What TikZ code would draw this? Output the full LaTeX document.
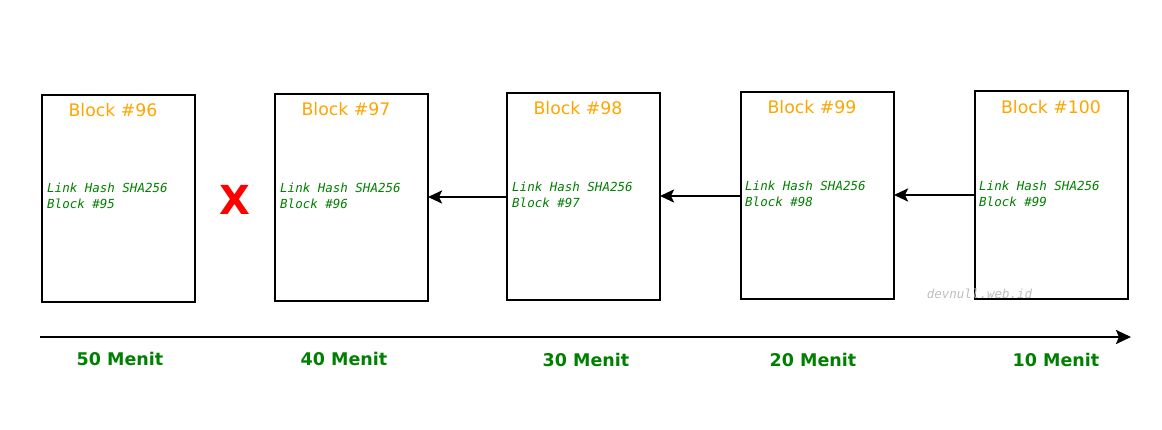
\documentclass[tikz,border=0pt]{standalone}
\usepackage{fontspec}
\setmainfont{DejaVu Sans}
\newfontfamily\monoob[FakeSlant=0.2]{DejaVu Sans Mono}
\IfFontExistsTF{DejaVu Sans Mono Oblique}{\newfontfamily\monoobl{DejaVu Sans Mono Oblique}}{\let\monoobl\monoob}
\usetikzlibrary{arrows.meta}
\definecolor{blockorange}{RGB}{255,165,0}
\definecolor{linkgreen}{RGB}{0,128,0}
\definecolor{wmgray}{RGB}{190,190,190}
\begin{document}
\begin{tikzpicture}[x=1pt,y=-1pt,
  blockbox/.style={draw=black,line width=2.4pt,fill=white},
  blocktitle/.style={text=blockorange,font=\fontsize{17.3}{20}\selectfont,inner sep=0pt},
  linktext/.style={text=linkgreen,font=\monoobl\fontsize{12.5}{16}\selectfont,align=left,anchor=west,inner sep=0pt},
  menit/.style={text=linkgreen,font=\bfseries\fontsize{17.5}{20}\selectfont,inner sep=0pt},
  linkarrow/.style={draw=black,line width=2.4pt,-{Stealth[length=14pt,width=13pt,inset=3pt]}}]
\useasboundingbox (0,0) rectangle (1162,430);
% blocks
\draw[blockbox] (42,95) rectangle (195,302);
\draw[blockbox] (275,94) rectangle (428,301);
\draw[blockbox] (507,93) rectangle (660,300);
\draw[blockbox] (741,92) rectangle (894,299);
\draw[blockbox] (975,91) rectangle (1128,299);
% edges as named coordinates
\coordinate (r97) at (428,197);
\coordinate (l98) at (507,197);
\coordinate (r98) at (660,196);
\coordinate (l99) at (741,196);
\coordinate (r99) at (894,195);
\coordinate (l100) at (975,195);
% titles
\node[blocktitle] (t96) at (113,110) {Block \#96};
\node[blocktitle] (t97) at (346,109) {Block \#97};
\node[blocktitle] (t98) at (578,108) {Block \#98};
\node[blocktitle] (t99) at (812,107) {Block \#99};
\node[blocktitle] (t100) at (1051,107) {Block \#100};
% link texts
\node[linktext] (k96) at (47,196) {Link Hash SHA256\\Block \#95};
\node[linktext] (k97) at (280,196) {Link Hash SHA256\\Block \#96};
\node[linktext] (k98) at (512,195) {Link Hash SHA256\\Block \#97};
\node[linktext] (k99) at (745,194) {Link Hash SHA256\\Block \#98};
\node[linktext] (k100) at (979,194) {Link Hash SHA256\\Block \#99};
% red X
\node[text=red,font=\bfseries\fontsize{40}{44}\selectfont,inner sep=0pt] (x) at (235,200) {X};
% arrows
\draw[linkarrow] (l98) -- (r97);
\draw[linkarrow] (l99) -- (r98);
\draw[linkarrow] (l100) -- (r99);
% watermark
\node[text=wmgray,font=\monoobl\fontsize{12.5}{14}\selectfont,inner sep=0pt] (wm) at (979.5,294) {devnull.web.id};
% time axis
\coordinate (ax0) at (40,337);
\coordinate (ax1) at (1131,337);
\draw[line width=2.4pt,-{Stealth[length=15pt,width=14pt,inset=3pt]}] (ax0) -- (ax1);
\node[menit] (m50) at (120,359) {50 Menit};
\node[menit] (m40) at (344,359) {40 Menit};
\node[menit] (m30) at (586,360) {30 Menit};
\node[menit] (m20) at (813,360) {20 Menit};
\node[menit] (m10) at (1056,360) {10 Menit};
\end{tikzpicture}
\end{document}
